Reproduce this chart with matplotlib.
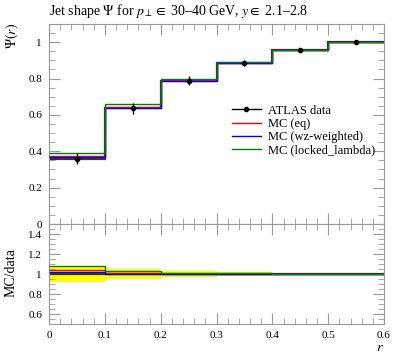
import numpy as np
import matplotlib
matplotlib.use("Agg")
import matplotlib.pyplot as plt
from matplotlib.ticker import MultipleLocator
from matplotlib.lines import Line2D

plt.rcParams['font.family'] = ['Liberation Serif', 'DejaVu Serif']
plt.rcParams['mathtext.fontset'] = 'stix'

# bin edges in r and the measured / simulated jet shape
r_edges = [0.0, 0.1, 0.2, 0.3, 0.4, 0.5, 0.6]
data = [0.360, 0.637, 0.787, 0.885, 0.955, 1.0]
data_err = [0.029, 0.031, 0.025, 0.018, 0.010, 0.0]
mc_eq = [0.373, 0.641, 0.790, 0.887, 0.956, 1.0]
mc_wz = [0.369, 0.639, 0.789, 0.886, 0.956, 1.0]
mc_locked = [0.388, 0.658, 0.796, 0.890, 0.958, 1.0]

series = [
    ("MC (eq)", mc_eq, "red"),
    ("MC (wz-weighted)", mc_wz, "blue"),
    ("MC (locked_lambda)", mc_locked, "green"),
]

edges = np.array(r_edges)
centers = 0.5 * (edges[:-1] + edges[1:])
d = np.array(data)
de = np.array(data_err)

W, H = 397, 358
fig = plt.figure(figsize=(W / 100, H / 100), dpi=100)
ax = fig.add_axes([49 / W, 1 - 224 / H, 335 / W, 200 / H])
ax2 = fig.add_axes([49 / W, 1 - 324 / H, 335 / W, 100 / H])

# main panel
ax.stairs(d, edges, baseline=None, color="#333333", lw=1.6, zorder=2)
for label, vals, col in series:
    ax.stairs(vals, edges, baseline=None, color=col, lw=1.0, zorder=3)
ax.errorbar(centers, d, yerr=de, fmt="o", color="black", ms=3,
            elinewidth=1.0, capsize=0, zorder=5)

ax.set_xlim(0, 0.6)
ax.set_ylim(0, 1.1)
ax.xaxis.set_major_locator(MultipleLocator(0.1))
ax.xaxis.set_minor_locator(MultipleLocator(0.02))
ax.yaxis.set_minor_locator(MultipleLocator(0.05))
ax.set_yticks([0, 0.2, 0.4, 0.6, 0.8, 1.0])
ax.set_yticklabels(["0", "0.2", "0.4", "0.6", "0.8", "1"])
ax.tick_params(labelbottom=False)

handles = [Line2D([], [], color="black", marker="o", ms=3, lw=1.0)]
handles += [Line2D([], [], color=c, lw=1.0) for _, _, c in series]
labels = ["ATLAS data"] + [s[0] for s in series]
ax.legend(handles, labels, frameon=False, loc="upper left",
          bbox_to_anchor=(223 / W, 1 - 96 / H), bbox_transform=fig.transFigure,
          fontsize=9, handlelength=2.3, handletextpad=0.6, labelspacing=0.1,
          borderpad=0.2)

fig.text(49 / W, 1 - 11 / H,
         r"Jet shape $\Psi$ for $p_\perp \in$ 30–40 GeV, $y \in$ 2.1–2.8",
         fontsize=10, ha="left", va="center")
fig.text(4 / W, 1 - 23 / H, r"$\Psi(r)$", rotation=90, fontsize=10,
         ha="left", va="top")

# ratio panel
lo = 1 - de / d
hi = 1 + de / d
ax2.stairs(hi, edges, baseline=lo, fill=True, color="yellow", lw=0, zorder=1)
ax2.stairs(np.ones_like(d), edges, baseline=None, color="#333333", lw=1.6, zorder=2)
for label, vals, col in series:
    ax2.stairs(np.array(vals) / d, edges, baseline=None, color=col, lw=1.0, zorder=3)

ax2.set_xlim(0, 0.6)
ax2.set_ylim(0.5, 1.5)
ax2.xaxis.set_minor_locator(MultipleLocator(0.02))
ax2.yaxis.set_minor_locator(MultipleLocator(0.05))
ax2.set_yticks([0.6, 0.8, 1.0, 1.2, 1.4])
ax2.set_yticklabels(["0.6", "0.8", "1", "1.2", "1.4"])
ax2.set_xticks([0, 0.1, 0.2, 0.3, 0.4, 0.5, 0.6])
ax2.set_xticklabels(["0", "0.1", "0.2", "0.3", "0.4", "0.5", "0.6"])
ax2.set_xlabel(r"$r$", loc="right", fontsize=10, labelpad=1)
fig.text(11 / W, 1 - 273 / H, "MC/data", rotation=90, fontsize=10,
         ha="center", va="center")

for a in (ax, ax2):
    a.tick_params(which="both", direction="in", top=True, right=True,
                  color="#999999", labelsize=8)
    a.tick_params(which="major", length=8, width=0.8, pad=5)
    a.tick_params(which="minor", length=4, width=0.6)
    for s in a.spines.values():
        s.set_color("#999999")
        s.set_linewidth(0.8)

fig.savefig("out.png", dpi=100)
